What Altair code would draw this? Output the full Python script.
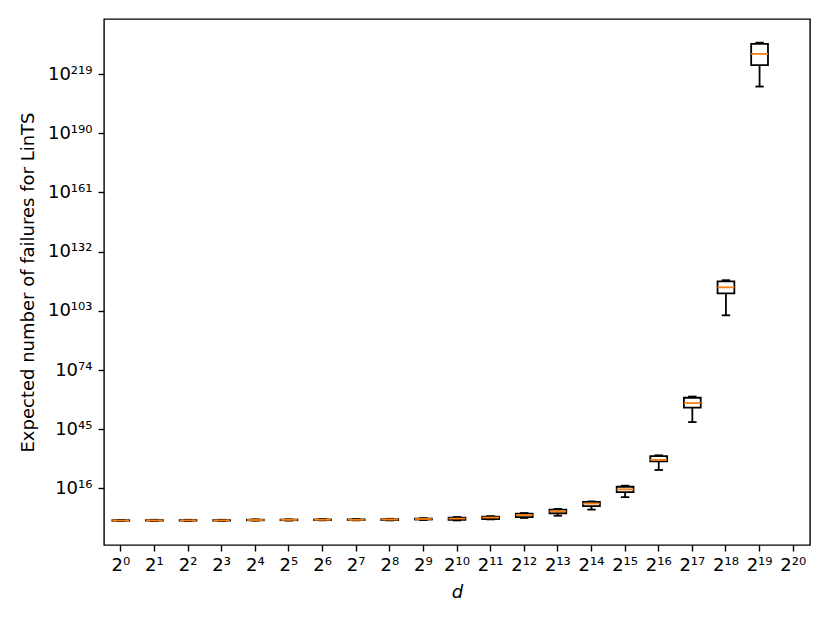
import altair as alt
import pandas as pd

# categories (x) -- 2^0 .. 2^20
sup = {"0": "⁰", "1": "¹", "2": "²", "3": "³", "4": "⁴", "5": "⁵",
       "6": "⁶", "7": "⁷", "8": "⁸", "9": "⁹"}
powers = list(range(21))
d_labels = ["2" + "".join(sup[c] for c in str(p)) for p in powers]

# log10 of expected number of failures (box statistics), d = 2^0 .. 2^19
whisker_low = [0.0, 0.05, 0.05, 0.05, 0.2, 0.25, 0.3, 0.3, 0.3, 0.5,
               0.3, 0.8, 1.5, 2.6, 5.6, 11.7, 25.0, 48.5, 100.8, 212.9]
q1 = [0.15, 0.2, 0.2, 0.2, 0.35, 0.4, 0.45, 0.45, 0.5, 0.75,
      0.6, 1.0, 1.95, 3.8, 7.3, 14.2, 29.2, 55.6, 111.6, 223.4]
median = [0.25, 0.3, 0.3, 0.3, 0.5, 0.55, 0.6, 0.6, 0.75, 1.0,
          1.2, 1.7, 2.9, 4.7, 8.5, 15.5, 30.0, 57.8, 114.5, 228.9]
q3 = [0.4, 0.45, 0.45, 0.45, 0.65, 0.7, 0.75, 0.8, 0.95, 1.2,
      1.7, 2.2, 3.6, 5.6, 9.4, 16.8, 31.8, 60.4, 117.4, 233.8]
whisker_high = [0.55, 0.6, 0.6, 0.6, 0.8, 0.85, 0.9, 0.95, 1.1, 1.4,
                1.95, 2.4, 3.9, 5.9, 9.6, 17.3, 32.2, 61.0, 118.0, 234.4]

y_ticks = [16, 45, 74, 103, 132, 161, 190, 219]

df = pd.DataFrame({
    "d": d_labels[:20],
    "lo": whisker_low,
    "q1": q1,
    "med": median,
    "q3": q3,
    "hi": whisker_high,
})

W, H = 706, 526
step = W / 21.0
FONT = "DejaVu Sans"
FS = 18

def sup_str(n):
    return "".join(sup[c] for c in str(n))

label_expr = " : ".join(
    f"datum.value == {t} ? '10{sup_str(t)}'" for t in y_ticks
) + " : ''"

x_enc = alt.X("d:O", sort=d_labels,
              scale=alt.Scale(domain=d_labels, paddingInner=0, paddingOuter=0),
              axis=alt.Axis(title="d", titleFontStyle="italic", labelAngle=0,
                            labelFont=FONT, labelFontSize=FS, labelColor="black",
                            titleFont=FONT, titleFontSize=FS, titleFontWeight="normal",
                            titleColor="black", titlePadding=9,
                            domain=False, tickColor="black", tickSize=6, tickWidth=1.4,
                            labelPadding=5))

y_scale = alt.Scale(domain=[-11.75, 246], nice=False, zero=False)
y_axis = alt.Axis(title="Expected number of failures for LinTS", values=y_ticks,
                  labelExpr=label_expr, grid=False, domain=False,
                  labelFont=FONT, labelFontSize=FS, labelColor="black",
                  titleFont=FONT, titleFontSize=FS, titleFontWeight="normal",
                  titleColor="black", titlePadding=10,
                  tickColor="black", tickSize=6, tickWidth=1.4, labelPadding=6)

base = alt.Chart(df)

whisk_lo = base.mark_rule(color="black", strokeWidth=1.8).encode(
    x=x_enc, y=alt.Y("lo:Q", scale=y_scale, axis=y_axis), y2="q1:Q")
whisk_hi = base.mark_rule(color="black", strokeWidth=1.8).encode(
    x=x_enc, y=alt.Y("q3:Q", scale=y_scale, axis=y_axis), y2="hi:Q")
cap_lo = base.mark_tick(color="black", thickness=1.8, size=step * 0.25,
                        opacity=1).encode(
    x=x_enc, y=alt.Y("lo:Q", scale=y_scale, axis=y_axis))
cap_hi = base.mark_tick(color="black", thickness=1.8, size=step * 0.25,
                        opacity=1).encode(
    x=x_enc, y=alt.Y("hi:Q", scale=y_scale, axis=y_axis))
box = base.mark_bar(fill="white", stroke="black", strokeWidth=1.8,
                    size=step * 0.5, opacity=1).encode(
    x=x_enc, y=alt.Y("q1:Q", scale=y_scale, axis=y_axis), y2="q3:Q")
med = base.mark_tick(color="#ff7f0e", thickness=1.8, size=step * 0.5,
                     opacity=1).encode(
    x=x_enc, y=alt.Y("med:Q", scale=y_scale, axis=y_axis))

chart = alt.layer(whisk_lo, whisk_hi, cap_lo, cap_hi, box, med).properties(
    width=W, height=H,
    autosize=alt.AutoSizeParams(type="none"),
    padding={"left": 96, "top": 11, "right": 10, "bottom": 60},
    background="white",
).configure_view(stroke="black", strokeWidth=1.4)

chart.save("out.html", embed_options={"renderer": "svg", "actions": False})
